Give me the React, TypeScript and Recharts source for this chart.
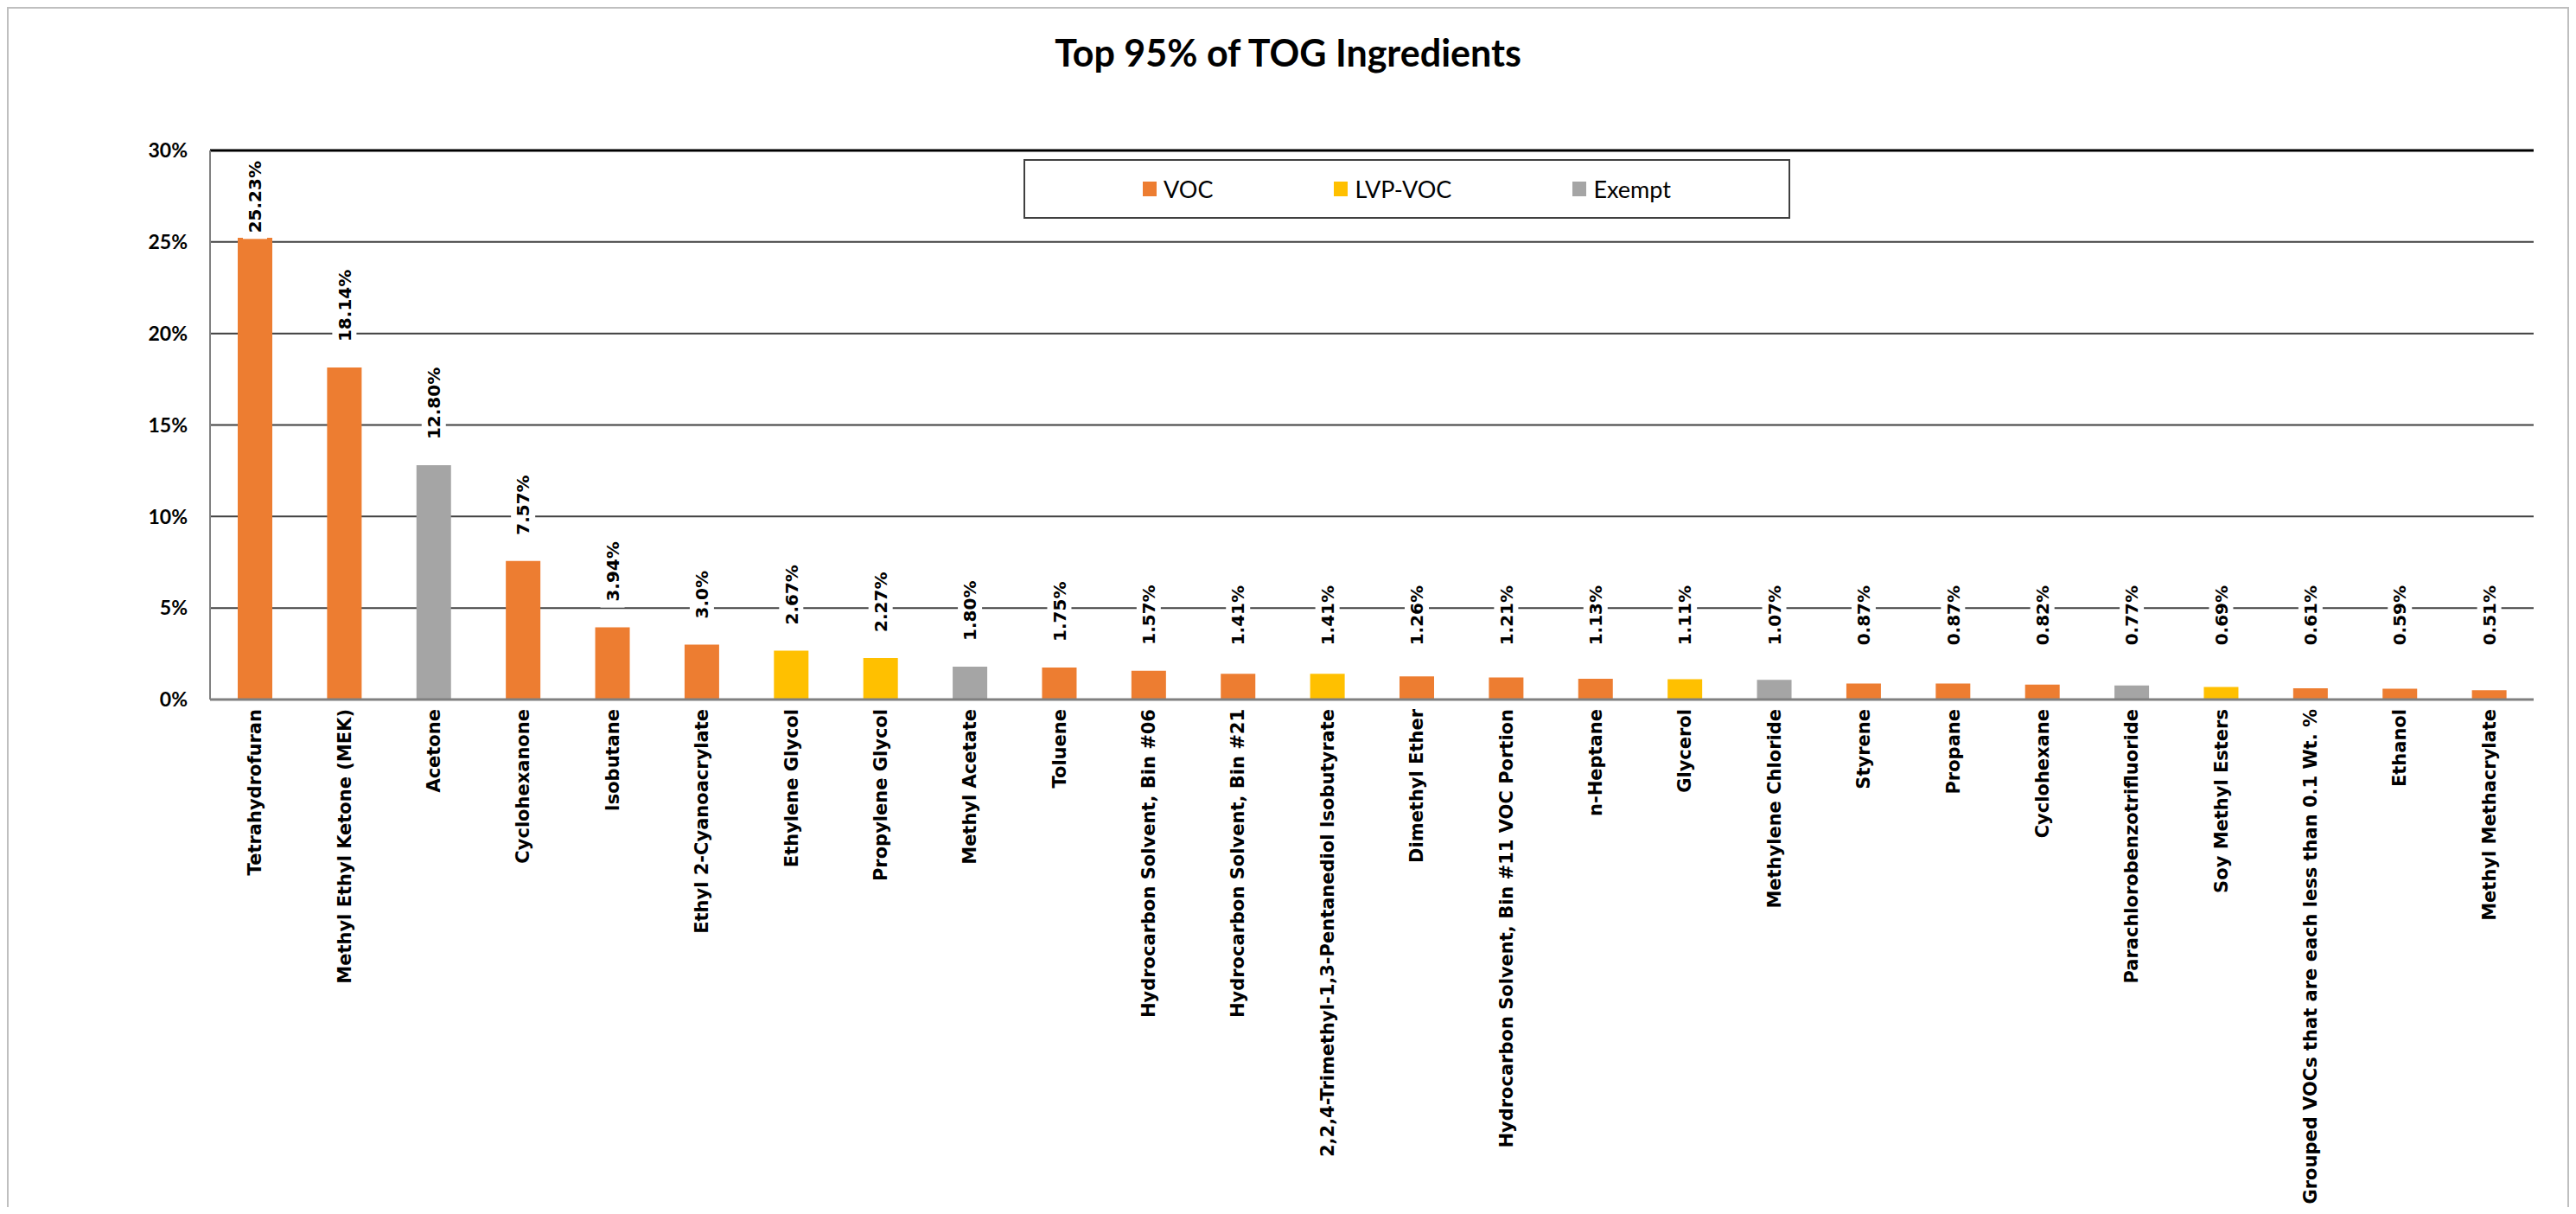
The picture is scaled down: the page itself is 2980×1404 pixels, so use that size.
import React from "react";
import { BarChart, Bar, XAxis, YAxis, CartesianGrid, Cell, LabelList, ReferenceLine } from "recharts";

const ingredients = [
  "Tetrahydrofuran",
  "Methyl Ethyl Ketone (MEK)",
  "Acetone",
  "Cyclohexanone",
  "Isobutane",
  "Ethyl 2-Cyanoacrylate",
  "Ethylene Glycol",
  "Propylene Glycol",
  "Methyl Acetate",
  "Toluene",
  "Hydrocarbon Solvent, Bin #06",
  "Hydrocarbon Solvent, Bin #21",
  "2,2,4-Trimethyl-1,3-Pentanediol Isobutyrate",
  "Dimethyl Ether",
  "Hydrocarbon Solvent, Bin #11 VOC Portion",
  "n-Heptane",
  "Glycerol",
  "Methylene Chloride",
  "Styrene",
  "Propane",
  "Cyclohexane",
  "Parachlorobenzotrifluoride",
  "Soy Methyl Esters",
  "Grouped VOCs that are each less than 0.1 Wt. %",
  "Ethanol",
  "Methyl Methacrylate",
];

// percent of TOG
const shares = [
  25.23, 18.14, 12.8, 7.57, 3.94, 3.0, 2.67, 2.27, 1.8, 1.75, 1.57, 1.41, 1.41,
  1.26, 1.21, 1.13, 1.11, 1.07, 0.87, 0.87, 0.82, 0.77, 0.69, 0.61, 0.59, 0.51,
];

const shareLabels = [
  "25.23%", "18.14%", "12.80%", "7.57%", "3.94%", "3.0%", "2.67%", "2.27%", "1.80%",
  "1.75%", "1.57%", "1.41%", "1.41%", "1.26%", "1.21%", "1.13%", "1.11%", "1.07%",
  "0.87%", "0.87%", "0.82%", "0.77%", "0.69%", "0.61%", "0.59%", "0.51%",
];

const classes = [
  "VOC", "VOC", "Exempt", "VOC", "VOC", "VOC", "LVP-VOC", "LVP-VOC", "Exempt",
  "VOC", "VOC", "VOC", "LVP-VOC", "VOC", "VOC", "VOC", "LVP-VOC", "Exempt",
  "VOC", "VOC", "VOC", "Exempt", "LVP-VOC", "VOC", "VOC", "VOC",
];

const legendItems = ["VOC", "LVP-VOC", "Exempt"];
const yTicks = [0, 5, 10, 15, 20, 25, 30];

const classColor: Record<string, string> = {
  VOC: "#ED7D31",
  "LVP-VOC": "#FFC000",
  Exempt: "#A5A5A5",
};

const data = ingredients.map((name, i) => ({
  name,
  share: shares[i],
  cls: classes[i],
}));

const labelFont = 20;
const verdanaBold = "'DejaVu Sans', Verdana, sans-serif";
const calibriLike = "Lato, 'Open Sans', sans-serif";

function labelLength(s: string) {
  let em = 0;
  for (const c of s) em += c === "." ? 0.38 : c === "%" ? 1.002 : 0.696;
  return em * labelFont;
}

function ValueLabel(props: any) {
  const { x, y, width, height, index } = props;
  const value = shares[index];
  const text = shareLabels[index];
  const len = labelLength(text);
  const base = y + height;
  const pxPerUnit = height / value;
  const plotTop = base - 30 * pxPerUnit;
  const cx = x + width / 2;
  // above the bar, kept off the top border; short bars get labels lifted to around the 5% line
  let cy = Math.min(y - 30 - len / 2, base - 4.6 * pxPerUnit);
  cy = Math.max(cy, plotTop + 12 + len / 2);
  return (
    <g>
      <rect x={cx - 14} y={cy - len / 2 - 7} width={28} height={len + 14} fill="#fff" />
      <text
        x={cx}
        y={cy}
        dy="0.36em"
        transform={`rotate(-90 ${cx} ${cy})`}
        textAnchor="middle"
        fontFamily={verdanaBold}
        fontWeight="bold"
        fontSize={labelFont}
        fill="#000"
      >
        {text}
      </text>
    </g>
  );
}

function NameTick(props: any) {
  const { x, y, payload } = props;
  return (
    <text
      x={x}
      y={y}
      dy="0.36em"
      transform={`rotate(-90 ${x} ${y})`}
      textAnchor="end"
      fontFamily={verdanaBold}
      fontWeight="bold"
      fontSize={21}
      fill="#000"
    >
      {payload.value}
    </text>
  );
}

function PercentTick(props: any) {
  const { x, y, payload } = props;
  return (
    <text
      x={x}
      y={y}
      dy="0.36em"
      textAnchor="end"
      fontFamily={calibriLike}
      fontWeight="bold"
      fontSize={23}
      fill="#000"
    >
      {payload.value}%
    </text>
  );
}

export default function App() {
  return (
    <div
      style={{
        position: "relative",
        width: 2964,
        height: 1388,
        boxSizing: "border-box",
        border: "2px solid #BFBFBF",
        borderBottom: "none",
        background: "#fff",
      }}
    >
      <div
        style={{
          position: "absolute",
          left: 0,
          right: 0,
          top: 29,
          textAlign: "center",
          fontFamily: calibriLike,
          fontWeight: "bold",
          fontSize: 43,
          lineHeight: 1,
          color: "#000",
        }}
      >
        Top 95% of TOG Ingredients
      </div>

      <BarChart
        width={2960}
        height={1386}
        data={data}
        margin={{ top: 164, right: 39, left: 113, bottom: 557 }}
      >
        <CartesianGrid yAxisId="left" vertical={false} stroke="#404040" strokeWidth={2} />
        <XAxis
          dataKey="name"
          interval={0}
          height={30}
          tickLine={false}
          tickSize={0}
          tickMargin={11}
          axisLine={{ stroke: "#808080", strokeWidth: 3 }}
          tick={<NameTick />}
        />
        <YAxis
          yAxisId="left"
          width={120}
          domain={[0, 30]}
          ticks={yTicks}
          tickLine={false}
          tickSize={0}
          tickMargin={26}
          axisLine={{ stroke: "#808080", strokeWidth: 2 }}
          tick={<PercentTick />}
        />
        <YAxis
          yAxisId="right"
          orientation="right"
          width={0}
          domain={[0, 30]}
          tick={false}
          tickLine={false}
          axisLine={{ stroke: "#000", strokeWidth: 2 }}
        />
        <ReferenceLine yAxisId="left" y={30} stroke="#000" strokeWidth={3} />
        <Bar yAxisId="left" dataKey="share" barSize={40} isAnimationActive={false}>
          {data.map((d, i) => (
            <Cell key={i} fill={classColor[d.cls]} />
          ))}
          <LabelList dataKey="share" content={<ValueLabel />} />
        </Bar>
      </BarChart>

      <div
        style={{
          position: "absolute",
          left: 1174,
          top: 174,
          width: 887,
          height: 69,
          boxSizing: "border-box",
          border: "2px solid #404040",
          background: "#fff",
          display: "flex",
          alignItems: "center",
          justifyContent: "center",
          gap: 140,
          fontFamily: calibriLike,
          fontSize: 27,
          color: "#000",
        }}
      >
        {legendItems.map((item) => (
          <div key={item} style={{ display: "flex", alignItems: "center" }}>
            <span
              style={{
                display: "inline-block",
                width: 16,
                height: 17,
                background: classColor[item],
                marginRight: 8,
              }}
            />
            <span>{item}</span>
          </div>
        ))}
      </div>
    </div>
  );
}
